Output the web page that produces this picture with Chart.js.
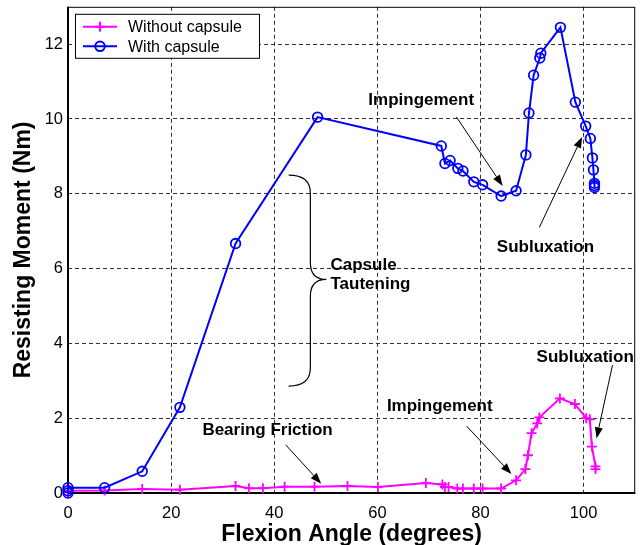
<!DOCTYPE html>
<html>
<head>
<meta charset="utf-8">
<script src="https://cdn.jsdelivr.net/npm/chart.js@4"></script>
<style>
 body{margin:0;background:#fff;}
 #wrap{width:642px;height:545px;}
</style>
</head>
<body>
<div id="wrap"><canvas id="c" width="642" height="545"></canvas></div>
<script>
// values
const angleWithout = [0, 0, 7.1, 14.4, 21.7, 32.5, 35.1, 37.8, 42.0, 47.8, 54.2, 60.1, 69.4, 72.6, 73.1, 73.8, 75.5, 76.6, 78.7, 80.4, 84.0, 86.9, 88.7, 89.2, 89.9, 91.0, 91.4, 95.4, 98.3, 100.5, 101.2, 101.6, 102.3, 102.3];
const momentWithout = [0.03, 0.06, 0.07, 0.11, 0.09, 0.19, 0.13, 0.13, 0.17, 0.17, 0.19, 0.16, 0.27, 0.23, 0.16, 0.16, 0.12, 0.12, 0.12, 0.12, 0.12, 0.34, 0.64, 1.01, 1.60, 1.86, 2.02, 2.53, 2.38, 2.00, 1.97, 1.24, 0.71, 0.64];
const angleWith = [0, 0, 0, 7.1, 14.4, 21.7, 32.5, 48.4, 72.4, 73.1, 74.1, 75.6, 76.6, 78.7, 80.4, 84.0, 86.9, 88.8, 89.4, 90.3, 91.5, 91.7, 95.5, 98.4, 100.4, 101.3, 101.7, 101.9, 102.1, 102.1, 102.1];
const momentWith = [0.0, 0.06, 0.14, 0.14, 0.58, 2.29, 6.67, 10.05, 9.28, 8.81, 8.89, 8.68, 8.61, 8.32, 8.24, 7.94, 8.08, 9.04, 10.16, 11.17, 11.63, 11.76, 12.45, 10.45, 9.81, 9.48, 8.96, 8.64, 8.28, 8.22, 8.17];
const xTicks = [0, 20, 40, 60, 80, 100];
const yTicks = [0, 2, 4, 6, 8, 10, 12];
const seriesNames = ['Without capsule', 'With capsule'];

const FONT = "'Liberation Sans', Arial, sans-serif";
const MAG = '#ff00ff', BLUE = '#0000ff';

// annotation texts (anchored in data units)
const labels = [
  {text:'Impingement', x:68.5, y:10.5},
  {text:'Subluxation', x:92.6, y:6.56},
  {text:'Bearing Friction', x:38.7, y:1.68},
  {text:'Impingement', x:72.1, y:2.32},
  {text:'Subluxation', x:100.3, y:3.62},
  {text:'Capsule', x:50.9, y:6.08, align:'left'},
  {text:'Tautening', x:50.9, y:5.57, align:'left'}
];
const arrows = [
  [75.3, 10.06, 84.3, 8.21],
  [91.4, 7.10, 99.7, 9.52],
  [42.2, 1.29, 49.1, 0.25],
  [77.3, 1.79, 86.0, 0.51],
  [105.6, 3.42, 102.5, 1.46]
];

const pts = (xs, ys) => xs.map((x, i) => ({x, y: ys[i]}));

const decor = {
  id: 'decor',
  beforeDatasetsDraw(chart) {
    const {ctx, chartArea: a} = chart;
    ctx.save();
    ctx.strokeStyle = '#000';
    ctx.lineWidth = 1;
    ctx.strokeRect(a.left + 0.5, a.top + 0.5, a.right - a.left - 1, a.bottom - a.top);
    ctx.lineWidth = 2;
    ctx.beginPath();
    ctx.moveTo(a.left, a.top); ctx.lineTo(a.left, a.bottom); ctx.lineTo(a.right, a.bottom);
    ctx.stroke();
    ctx.restore();
  },
  afterDatasetsDraw(chart) {
    const {ctx, chartArea: a, scales: {x, y}} = chart;
    ctx.save();
    // texts
    ctx.fillStyle = '#000';
    ctx.font = 'bold 17px ' + FONT;
    ctx.textBaseline = 'middle';
    labels.forEach(l => {
      ctx.textAlign = l.align || 'center';
      ctx.fillText(l.text, x.getPixelForValue(l.x), y.getPixelForValue(l.y));
    });
    // arrows
    ctx.strokeStyle = '#000';
    ctx.lineWidth = 1;
    arrows.forEach(([x0, y0, x1, y1]) => {
      const px0 = x.getPixelForValue(x0), py0 = y.getPixelForValue(y0);
      const px1 = x.getPixelForValue(x1), py1 = y.getPixelForValue(y1);
      const ang = Math.atan2(py1 - py0, px1 - px0);
      const L = 11, W = 4;
      const bx = px1 - L * Math.cos(ang), by = py1 - L * Math.sin(ang);
      ctx.beginPath(); ctx.moveTo(px0, py0); ctx.lineTo(bx, by); ctx.stroke();
      ctx.beginPath();
      ctx.moveTo(px1, py1);
      ctx.lineTo(bx + W * Math.sin(ang), by - W * Math.cos(ang));
      ctx.lineTo(bx - W * Math.sin(ang), by + W * Math.cos(ang));
      ctx.closePath(); ctx.fill();
    });
    // brace
    const xe = x.getPixelForValue(42.8), xm = x.getPixelForValue(47.0), xt = x.getPixelForValue(50.1);
    const yt = y.getPixelForValue(8.50), yc = y.getPixelForValue(5.71), yb = y.getPixelForValue(2.86);
    const r = 18, r2 = 17;
    ctx.lineWidth = 1.2;
    ctx.beginPath();
    ctx.moveTo(xe, yt);
    ctx.quadraticCurveTo(xm, yt, xm, yt + r);
    ctx.lineTo(xm, yc - r2);
    ctx.quadraticCurveTo(xm, yc, xt, yc);
    ctx.quadraticCurveTo(xm, yc, xm, yc + r2);
    ctx.lineTo(xm, yb - r);
    ctx.quadraticCurveTo(xm, yb, xe, yb);
    ctx.stroke();
    // legend
    const lx = a.left + 7, ly = a.top + 7, lw = 184, lh = 44;
    ctx.fillStyle = '#fff';
    ctx.fillRect(lx, ly, lw, lh);
    ctx.lineWidth = 1;
    ctx.strokeRect(lx + 0.5, ly + 0.5, lw, lh);
    ctx.font = '16px ' + FONT;
    ctx.textAlign = 'left';
    chart.data.datasets.forEach((ds, i) => {
      const ry = ly + 13 + i * 19.5;
      ctx.strokeStyle = ds.borderColor;
      ctx.lineWidth = 2;
      ctx.beginPath(); ctx.moveTo(lx + 8, ry); ctx.lineTo(lx + 42, ry); ctx.stroke();
      const cx = lx + 25;
      ctx.beginPath();
      if (ds.pointStyle === 'circle') {
        ctx.arc(cx, ry, ds.pointRadius, 0, Math.PI * 2);
      } else {
        ctx.moveTo(cx - ds.pointRadius, ry); ctx.lineTo(cx + ds.pointRadius, ry);
        ctx.moveTo(cx, ry - ds.pointRadius); ctx.lineTo(cx, ry + ds.pointRadius);
      }
      ctx.stroke();
      ctx.fillStyle = '#000';
      ctx.fillText(ds.label, lx + 53, ry + 1);
    });
    ctx.restore();
  }
};

new Chart(document.getElementById('c'), {
  type: 'scatter',
  data: {
    datasets: [
      {
        label: seriesNames[0],
        data: pts(angleWithout, momentWithout),
        showLine: true,
        borderColor: MAG, backgroundColor: MAG,
        borderWidth: 2,
        pointStyle: 'cross', pointRadius: 5, pointBorderWidth: 1.8,
        pointBorderColor: MAG,
        order: 1, clip: false
      },
      {
        label: seriesNames[1],
        data: pts(angleWith, momentWith),
        showLine: true,
        borderColor: BLUE, backgroundColor: 'rgba(0,0,0,0)',
        borderWidth: 2,
        pointStyle: 'circle', pointRadius: 4.8, pointBorderWidth: 1.8,
        pointBorderColor: BLUE,
        order: 0, clip: false
      }
    ]
  },
  options: {
    responsive: false,
    animation: false,
    layout: {padding: {top: 6, right: 4, left: 0, bottom: 0}},
    plugins: {legend: {display: false}, tooltip: {enabled: false}},
    scales: {
      x: {
        type: 'linear', min: 0, max: 110,
        afterBuildTicks: s => { s.ticks = xTicks.map(v => ({value: v})); },
        afterFit: s => { s.height = 52; s.paddingLeft = 0; s.paddingRight = 0; },
        ticks: {color: '#000', padding: 11, font: {family: FONT, size: 16.5}},
        grid: {color: '#333', lineWidth: 1, drawTicks: false},
        border: {display: false, dash: [4, 3]},
        title: {display: true, text: 'Flexion Angle (degrees)', color: '#000',
          font: {family: FONT, size: 23, weight: 'bold', lineHeight: 0.9}, padding: 0}
      },
      y: {
        type: 'linear', min: 0, max: 13,
        afterBuildTicks: s => { s.ticks = yTicks.map(v => ({value: v})); },
        afterFit: s => { s.width = 68; s.paddingTop = 0; s.paddingBottom = 0; },
        ticks: {color: '#000', padding: 5, font: {family: FONT, size: 16.5}},
        grid: {color: '#333', lineWidth: 1, drawTicks: false},
        border: {display: false, dash: [4, 3]},
        title: {display: true, text: 'Resisting Moment (Nm)', color: '#000',
          font: {family: FONT, size: 23, weight: 'bold', lineHeight: 1}, padding: {top: 12.5, bottom: 0}}
      }
    }
  },
  plugins: [decor]
});
</script>
</body>
</html>
